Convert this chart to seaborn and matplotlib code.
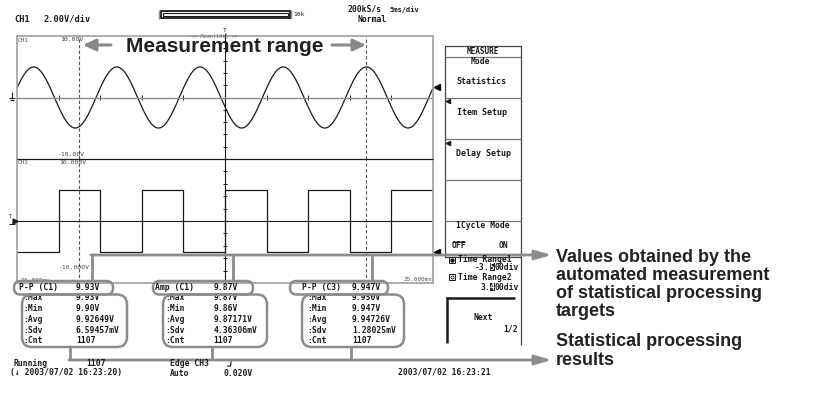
import numpy as np
import matplotlib
matplotlib.use('Agg')
import matplotlib.pyplot as plt
import seaborn as sns
from matplotlib.patches import FancyBboxPatch, Rectangle

sns.set_style('white')
plt.rcParams['font.family'] = ['DejaVu Sans Mono', 'DejaVu Sans']

# scope settings
t_range = [-25.0, 25.0]      # ms  (5ms/div, 10 div)
v_range = [-10.0, 10.0]      # V   (2.00V/div)
cursor_t = [-17.5, 17.0]     # Time Range1 -3.5div, Time Range2 3.4div

# CH1: 100 Hz sine
ch1_amp = 4.965
ch1_period = 10.0            # ms
ch1_trough = 2.0             # ms, first trough right of trigger

# CH3: square wave, edge times (ms) and levels (V)
ch3_t = [-25, -20, -15, -10, -5, 0, 5, 10, 15, 20, 25]
ch3_v = [-5.0, 4.95, -5.0, 4.95, -5.0, 4.95, -5.0, 4.95, -5.0, 4.95, 4.95]

# automated measurement / statistics
items = ['P-P (C1)', 'Amp (C1)', 'P-P (C3)']
item_vals = ['9.93V', '9.87V', '9.947V']
stat_names = [':Max', ':Min', ':Avg', ':Sdv', ':Cnt']
stats_pp_c1 = ['9.93V', '9.90V', '9.92649V', '6.59457mV', '1107']
stats_amp_c1 = ['9.87V', '9.86V', '9.87171V', '4.36306mV', '1107']
stats_pp_c3 = ['9.950V', '9.947V', '9.94726V', '1.28025mV', '1107']
all_stats = [stats_pp_c1, stats_amp_c1, stats_pp_c3]

menu_items = ['Statistics', 'Item Setup', 'Delay Setup', '1Cycle Mode']
callouts_top = ['Values obtained by the', 'automated measurement',
                'of statistical processing', 'targets']
callouts_bot = ['Statistical processing', 'results']

GRAY = '#8c8c8c'
INK = '#1a1a1a'
W, H = 819, 397

fig = plt.figure(figsize=(W / 100, H / 100), dpi=100)


def px_axes(x0, y0, x1, y1):
    return fig.add_axes([x0 / W, 1 - y1 / H, (x1 - x0) / W, (y1 - y0) / H])


ax1 = px_axes(17, 36, 433, 159)
ax3 = px_axes(17, 159, 433, 283)

t = np.linspace(t_range[0], t_range[1], 801)
v1 = -ch1_amp * np.cos(2 * np.pi * (t - ch1_trough) / ch1_period)
sns.lineplot(x=t, y=v1, ax=ax1, color=INK, lw=0.9, sort=False)
sns.lineplot(x=ch3_t, y=ch3_v, ax=ax3, color=INK, lw=0.9,
             drawstyle='steps-post', sort=False)

for a in (ax1, ax3):
    a.set_xlim(t_range)
    a.set_ylim(v_range)
    a.set_xticks([])
    a.set_yticks([])
    a.set_xlabel('')
    a.set_ylabel('')
    a.set_facecolor('white')
    for s in a.spines.values():
        s.set_color('#a0a0a0')
        s.set_linewidth(1.2)
    a.axvline(0, color=INK, lw=0.8)
    a.hlines(np.arange(-8, 9, 2), -0.25, 0.25, color=INK, lw=0.7)
    a.vlines(np.arange(-20, 21, 5), -0.35, 0.35, color=INK, lw=0.7)
    for c in cursor_t:
        a.axvline(c, color='#555555', lw=0.8, ls=(0, (3, 2)))
ax1.axhline(0, color=GRAY, lw=1.0)
ax3.axhline(0, color=INK, lw=0.8)
ax1.spines['bottom'].set_visible(False)
ax3.spines['top'].set_visible(False)

# overlay in pixel coordinates
ov = fig.add_axes([0, 0, 1, 1])
ov.set_xlim(0, W)
ov.set_ylim(H, 0)
ov.axis('off')
ov.patch.set_alpha(0)


def txt(x, y, s, size=5.8, **kw):
    kw.setdefault('va', 'center')
    kw.setdefault('color', INK)
    ov.text(x, y, s, fontsize=size, **kw)


def line(xs, ys, **kw):
    kw.setdefault('color', INK)
    kw.setdefault('lw', 0.8)
    ov.plot(xs, ys, solid_capstyle='butt', **kw)


# panel separator
line([17, 433], [159, 159], lw=0.9)

# header
txt(14, 19, 'CH1', 6.2, weight='bold')
txt(44, 19, '2.00V/div', 6.2, weight='bold')
ov.add_patch(Rectangle((160.5, 10.5), 129, 7.5, fc='none', ec=INK, lw=1.3))
ov.add_patch(Rectangle((162.5, 12.5), 125, 3.5, fc='none', ec=INK, lw=0.8))
line([159, 159], [10, 18.5], color=GRAY, lw=1)
line([291, 291], [10, 18.5], color=GRAY, lw=1)
txt(293, 14.5, '10k', 4.5)
txt(347, 9.5, '200kS/s', 5.8, weight='bold')
txt(390, 9.5, '5ms/div', 5.0, weight='bold')
txt(357, 20, 'Normal', 5.8, weight='bold')
txt(225, 30.5, 'T', 4.5, ha='center')
line([225, 225], [33, 36], lw=0.8)

# scope labels
txt(18, 40, 'CH1', 4.3, color='#555555')
txt(83, 39.5, '10.00V', 4.6, ha='right', color='#444444')
txt(85, 155, '-10.00V', 4.6, ha='right', color='#444444')
txt(18, 163, 'CH3', 4.3, color='#555555')
txt(86, 163, '10.000V', 4.6, ha='right', color='#444444')
txt(90, 267.5, '-10.000V', 4.6, ha='right', color='#444444')
txt(18, 280.5, '-25.000ms', 4.3, color='#555555')
txt(432, 279.5, '25.000ms', 4.3, ha='right', color='#555555')
txt(214, 36.5, '<< Mean(10k) >>', 3.8, ha='center', color='#777777')

# left ground marks and right level markers
line([12, 12], [92, 98], lw=0.8)
line([9, 15], [98, 98], lw=0.8)
line([10, 14], [100, 100], lw=0.8)
txt(11, 217, 'T', 4.0, ha='center')
ov.plot([15], [221], marker='>', ms=3.5, color=INK)
line([9, 15], [224, 224], lw=0.7)
ov.plot([437], [87], marker='<', ms=5, color='black')
ov.plot([437], [252], marker='<', ms=5, color='black')

# measurement range
big = dict(family=['Liberation Sans', 'DejaVu Sans'], weight='bold', color='#222222')
txt(225, 46, 'Measurement range', 15, ha='center', **big)
ov.annotate('', xy=(83, 45), xytext=(111, 45),
            arrowprops=dict(arrowstyle='-|>,head_length=0.75,head_width=0.35',
                            color='#888888', lw=2.2, shrinkA=0, shrinkB=0))
ov.annotate('', xy=(366, 45), xytext=(332, 45),
            arrowprops=dict(arrowstyle='-|>,head_length=0.75,head_width=0.35',
                            color='#888888', lw=2.2, shrinkA=0, shrinkB=0))

# measurement table
head_x = [19, 155, 302]
val_x = [76, 213.5, 352]
lab_x = [23, 165, 307]
stat_y = [297.5, 308.5, 319.5, 330.5, 340.5]
for i in range(3):
    txt(head_x[i], 287.5, items[i], 5.8, weight='bold')
    txt(val_x[i], 287.5, item_vals[i], 5.8, weight='bold')
    for j in range(5):
        txt(lab_x[i], stat_y[j], stat_names[j], 5.8, weight='bold')
        txt(val_x[i], stat_y[j], all_stats[i][j], 5.8, weight='bold')


def oval(x0, y0, x1, y1, r):
    ov.add_patch(FancyBboxPatch((x0, y0), x1 - x0, y1 - y0,
                                boxstyle=f'round,pad=0,rounding_size={r}',
                                fc='none', ec=GRAY, lw=1.8, zorder=4))


head_box = [(14, 113), (153, 253), (290, 388)]
stat_box = [(22, 127), (163, 267), (302, 404)]
for (a, b) in head_box:
    oval(a, 281, b, 294.5, 6.5)
for (a, b) in stat_box:
    oval(a, 294.5, b, 347, 10)

# callout brackets
for x in [92, 233, 372]:
    line([x, x], [255, 281], color=GRAY, lw=2.0)
for x in [70, 212, 351]:
    line([x, x], [347, 360], color=GRAY, lw=2.0)
arr = dict(arrowstyle='-|>,head_length=1.0,head_width=0.28', color=GRAY,
           lw=2.0, shrinkA=0, shrinkB=0)
ov.annotate('', xy=(552, 255), xytext=(91, 255), arrowprops=arr)
ov.annotate('', xy=(552, 360), xytext=(69, 360), arrowprops=arr)

for k, s in enumerate(callouts_top):
    txt(556, 257 + 18.3 * k, s, 13, **big)
for k, s in enumerate(callouts_bot):
    txt(556, 342 + 18.8 * k, s, 13, **big)

# soft-key menu
line([445, 521, 521, 445, 445], [46, 46, 257, 257, 46], color='#444444', lw=0.9)
line([521, 521], [257, 345], color='#444444', lw=0.9)
for y in [57, 97.5, 139, 180, 221]:
    line([445, 521], [y, y], color='#777777', lw=0.9)
txt(483, 51.5, 'MEASURE', 5.6, ha='center', weight='bold')
txt(480, 61.5, 'Mode', 5.8, ha='center', weight='bold')
txt(481, 81.5, menu_items[0], 6.0, ha='center', weight='bold')
txt(482, 112.5, menu_items[1], 6.0, ha='center', weight='bold')
txt(483, 154, menu_items[2], 6.0, ha='center', weight='bold')
ov.plot([448], [101], marker='<', ms=3, color=INK)
ov.plot([448], [142.5], marker='<', ms=3, color=INK)
txt(483, 226, menu_items[3], 5.8, ha='center', weight='bold')
txt(452, 246, 'OFF', 5.8, weight='bold')
line([452, 465], [241.5, 241.5], lw=0.7)
txt(499, 246, 'ON', 5.8, weight='bold')

ov.plot([452], [259.5], marker='s', ms=4, mfc='white', mec=INK, mew=0.7)
ov.plot([452], [259.5], marker='o', ms=2.2, color=INK)
txt(458, 259.5, 'Time Range1', 5.8, weight='bold')
ov.plot([452], [277], marker='s', ms=4, mfc='white', mec=INK, mew=0.7)
ov.plot([452], [277], marker='o', ms=2.2, mfc='white', mec=INK, mew=0.6)
txt(458, 277, 'Time Range2', 5.8, weight='bold')

# cursor values with the edited digit shown inverted
cw = 4.85
for y, pre, dig in [(267, '-3.', '5'), (287, '3.', '4')]:
    txt(519, y, '00div', 5.8, ha='right', weight='bold')
    ov.add_patch(Rectangle((519 - 6 * cw, y - 4), cw, 8, fc=INK, ec='none', zorder=3.5))
    txt(519 - 5.5 * cw, y, dig, 5.8, ha='center', weight='bold', color='white', zorder=3.6)
    txt(519 - 6 * cw, y, pre, 5.8, ha='right', weight='bold')

line([446, 515], [297.5, 297.5], lw=1.8)
line([446.5, 446.5], [297, 343], lw=1.8)
txt(483, 318, 'Next', 5.8, ha='center', weight='bold')
txt(518, 329, '1/2', 5.8, ha='right', weight='bold')

# status line
txt(14, 363, 'Running', 5.8, weight='bold')
txt(86, 363, '1107', 5.8, weight='bold')
txt(10, 373, '(\u2193 2003/07/02 16:23:20)', 5.8, weight='bold')
txt(170, 363, 'Edge CH3', 5.8, weight='bold')
line([227, 230.5, 231.5, 235], [366, 366, 359.5, 359.5], lw=0.8)
txt(170, 373, 'Auto', 5.8, weight='bold')
txt(223, 373, '0.020V', 5.8, weight='bold')
txt(398, 372, '2003/07/02 16:23:21', 5.8, weight='bold')

fig.savefig('out.png', dpi=100)
